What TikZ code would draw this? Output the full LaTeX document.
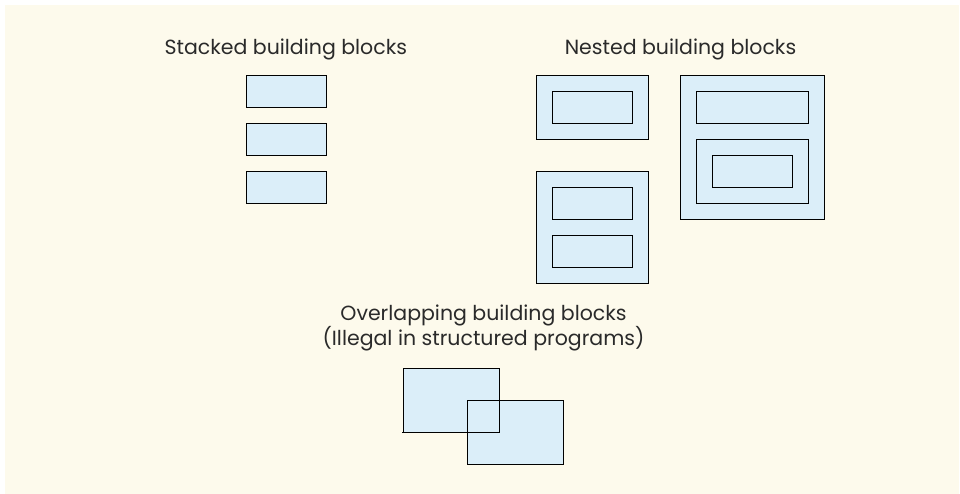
\documentclass[tikz,border=0pt]{standalone}
\usepackage{fontspec}
\setmainfont{Poppins}
\definecolor{cream}{HTML}{FDFAEC}
\definecolor{boxblue}{HTML}{DBEEF9}
\definecolor{txt}{HTML}{2A2A2A}
\begin{document}
\begin{tikzpicture}[x=1pt,y=-1pt,
  blk/.style={draw=black,fill=boxblue,line width=1.1pt,inner sep=0pt,outer sep=0pt,rectangle},
  lbl/.style={anchor=base,text=txt,font=\fontsize{20.5}{24}\selectfont,inner sep=0pt}]
\useasboundingbox (0,0) rectangle (960,494);
\fill[white] (0,0) rectangle (960,494);
\fill[cream] (5,5) rectangle (959,494);
% titles
\node[lbl] (tstack) at (285.8,55) {Stacked building blocks};
\node[lbl] (tnest) at (680.5,55) {Nested building blocks};
\node[lbl] (tover1) at (483.5,320) {Overlapping building blocks};
\node[lbl] (tover2) at (483.5,345) {(Illegal in structured programs)};
% stacked
\node[blk,minimum width=80,minimum height=32] (s1) at (286.7,91.3) {};
\node[blk,minimum width=80,minimum height=32] (s2) at (286.7,139.3) {};
\node[blk,minimum width=80,minimum height=32] (s3) at (286.7,187.3) {};
% nested A
\node[blk,minimum width=112,minimum height=64] (na) at (592.3,107.3) {};
\node[blk,minimum width=80,minimum height=32] (na1) at (592.3,107.3) {};
% nested B
\node[blk,minimum width=112,minimum height=112] (nb) at (592.3,227.3) {};
\node[blk,minimum width=80,minimum height=32] (nb1) at (592.3,203.3) {};
\node[blk,minimum width=80,minimum height=32] (nb2) at (592.3,251.3) {};
% nested C
\node[blk,minimum width=144,minimum height=144] (nc) at (752.3,147.3) {};
\node[blk,minimum width=112,minimum height=32] (nc1) at (752.3,107.3) {};
\node[blk,minimum width=112,minimum height=64] (nc2) at (752.3,171.3) {};
\node[blk,minimum width=80,minimum height=32] (nc3) at (752.3,171.3) {};
% overlapping
\node[blk,draw=none,minimum width=96,minimum height=64] (o1f) at (451.3,400.3) {};
\node[blk,draw=none,minimum width=96,minimum height=64] (o2f) at (515.3,432.3) {};
\node[blk,fill=none,minimum width=96,minimum height=64] (o1) at (451.3,400.3) {};
\node[blk,fill=none,minimum width=96,minimum height=64] (o2) at (515.3,432.3) {};
\draw[line width=1.1pt] (o1.south west) -- ++(-1.5,0);
\end{tikzpicture}
\end{document}
